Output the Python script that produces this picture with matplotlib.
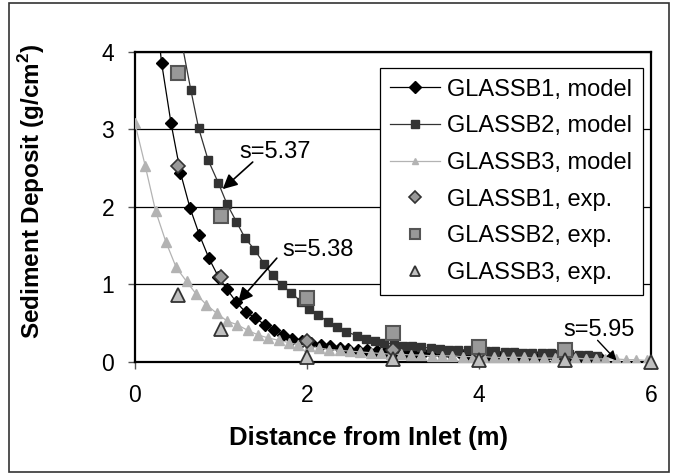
import matplotlib
matplotlib.use("Agg")
import matplotlib.pyplot as plt
from matplotlib.patches import Rectangle

plt.rcParams['font.family'] = ['Liberation Sans', 'DejaVu Sans']
plt.rcParams['mathtext.fontset'] = 'custom'
plt.rcParams['mathtext.bf'] = 'Liberation Sans:bold'
plt.rcParams['mathtext.rm'] = 'Liberation Sans'

# model curves (distance in m, deposit in g/cm2)
b1_model_x = [0.20, 0.31, 0.42, 0.53, 0.64, 0.75, 0.86, 0.97, 1.07, 1.18, 1.29, 1.40,
              1.51, 1.62, 1.72, 1.83, 1.94, 2.05, 2.16, 2.27, 2.38, 2.48, 2.59, 2.70,
              2.81, 2.92, 3.03, 3.14, 3.25, 3.35, 3.46, 3.57, 3.68, 3.79, 3.90, 4.01,
              4.12, 4.22, 4.33, 4.44, 4.55, 4.66, 4.77, 4.88, 4.99, 5.09, 5.20, 5.31, 5.42]
b1_model_y = [5.00, 3.86, 3.08, 2.44, 1.99, 1.64, 1.34, 1.10, 0.94, 0.77, 0.64, 0.57,
              0.48, 0.41, 0.35, 0.30, 0.27, 0.24, 0.22, 0.20, 0.18, 0.17, 0.16, 0.15,
              0.14, 0.14, 0.13, 0.12, 0.12, 0.11, 0.11, 0.10, 0.10, 0.10, 0.09, 0.09,
              0.09, 0.08, 0.08, 0.08, 0.07, 0.07, 0.07, 0.06, 0.06, 0.05, 0.05, 0.04, 0.04]

b2_model_x = [0.43, 0.54, 0.65, 0.74, 0.85, 0.97, 1.07, 1.18, 1.28, 1.39, 1.50, 1.60,
              1.71, 1.82, 1.93, 2.03, 2.13, 2.24, 2.35, 2.46, 2.58, 2.69, 2.79, 2.90,
              3.01, 3.12, 3.22, 3.33, 3.44, 3.55, 3.65, 3.76, 3.87, 3.98, 4.08, 4.19,
              4.30, 4.41, 4.51, 4.62, 4.73, 4.84, 4.94, 5.05, 5.16, 5.27, 5.37]
b2_model_y = [4.90, 4.15, 3.51, 3.02, 2.61, 2.31, 2.04, 1.81, 1.60, 1.45, 1.27, 1.12,
              0.99, 0.89, 0.78, 0.69, 0.61, 0.52, 0.45, 0.39, 0.34, 0.30, 0.27, 0.25,
              0.23, 0.21, 0.20, 0.19, 0.18, 0.17, 0.16, 0.16, 0.15, 0.15, 0.14, 0.14,
              0.13, 0.13, 0.12, 0.12, 0.11, 0.11, 0.10, 0.10, 0.09, 0.09, 0.08]

b3_model_x = [0.00, 0.12, 0.24, 0.36, 0.48, 0.60, 0.71, 0.83, 0.95, 1.07, 1.19, 1.31,
              1.43, 1.55, 1.67, 1.79, 1.90, 2.02, 2.14, 2.26, 2.38, 2.50, 2.62, 2.74,
              2.86, 2.98, 3.09, 3.21, 3.33, 3.45, 3.57, 3.69, 3.81, 3.93, 4.05, 4.17,
              4.28, 4.40, 4.52, 4.64, 4.76, 4.88, 5.00, 5.12, 5.24, 5.36, 5.47, 5.59,
              5.71, 5.83, 5.95]
b3_model_y = [3.08, 2.53, 1.95, 1.55, 1.22, 1.04, 0.88, 0.74, 0.63, 0.53, 0.48, 0.41,
              0.35, 0.31, 0.28, 0.25, 0.22, 0.20, 0.18, 0.16, 0.15, 0.14, 0.13, 0.12,
              0.11, 0.10, 0.10, 0.09, 0.09, 0.08, 0.08, 0.08, 0.07, 0.07, 0.07, 0.06,
              0.06, 0.06, 0.06, 0.05, 0.05, 0.05, 0.05, 0.05, 0.04, 0.04, 0.04, 0.04,
              0.03, 0.03, 0.02]

# measurements
b1_exp_x = [0.5, 1.0, 2.0, 3.0, 4.0, 5.0]
b1_exp_y = [2.53, 1.10, 0.27, 0.15, 0.12, 0.08]
b2_exp_x = [0.5, 1.0, 2.0, 3.0, 4.0, 5.0]
b2_exp_y = [3.73, 1.89, 0.82, 0.38, 0.19, 0.15]
b3_exp_x = [0.5, 1.0, 2.0, 3.0, 4.0, 5.0, 6.0]
b3_exp_y = [0.87, 0.43, 0.07, 0.04, 0.03, 0.03, 0.0]

# s labels: text anchor, arrow tail, arrow tip
s_labels = ['s=5.37', 's=5.38', 's=5.95']
s_text_xy = [(1.22, 2.71), (1.71, 1.45), (4.98, 0.41)]
s_tail_xy = [(1.37, 2.58), (1.65, 1.34), (5.38, 0.28)]
s_tip_xy = [(1.02, 2.23), (1.20, 0.77), (5.60, 0.02)]

fig = plt.figure(figsize=(6.78, 4.76), dpi=100)
ax = fig.add_axes([0.199, 0.2395, 0.761, 0.6513])

ax.plot(b1_model_x, b1_model_y, color='black', lw=0.9, marker='D', ms=6.5,
        mfc='black', mec='black', label='GLASSB1, model', zorder=3)
ax.plot(b2_model_x, b2_model_y, color='#333333', lw=0.9, marker='s', ms=6,
        mfc='#333333', mec='#333333', label='GLASSB2, model', zorder=3)
ax.plot(b3_model_x, b3_model_y, color='#b3b3b3', lw=0.9, marker='^', ms=6.5,
        mfc='#b3b3b3', mec='#b3b3b3', label='GLASSB3, model', zorder=3)

ax.plot(b1_exp_x, b1_exp_y, ls='none', marker='D', ms=7, mfc='#999999',
        mec='#333333', mew=1.2, label='GLASSB1, exp.', zorder=4)
ax.plot(b2_exp_x, b2_exp_y, ls='none', marker='s', ms=10, mfc='#999999',
        mec='#555555', mew=1.5, label='GLASSB2, exp.', zorder=4)
ax.plot(b3_exp_x, b3_exp_y, ls='none', marker='^', ms=10, mfc='#c0c0c0',
        mec='#333333', mew=1.3, label='GLASSB3, exp.', zorder=4, clip_on=False)

ax.set_xlim(0, 6)
ax.set_ylim(0, 4)
ax.set_xticks([0, 2, 4, 6])
ax.set_yticks([0, 1, 2, 3, 4])
ax.yaxis.grid(True, color='black', lw=0.9)
ax.set_axisbelow(True)
for sp in ax.spines.values():
    sp.set_linewidth(1.6)
    sp.set_color('black')
ax.tick_params(axis='x', direction='out', length=5, width=1, pad=11,
               labelsize=16.5, color='#555555')
ax.tick_params(axis='y', direction='out', length=5, width=1, pad=10,
               labelsize=16.5, color='#555555')

ax.set_xlabel('Distance from Inlet (m)', fontsize=18.5, fontweight='bold')
ax.set_ylabel(r'Sediment Deposit (g/cm$^{\mathbf{2}}$)', fontsize=17.5,
              fontweight='bold')
ax.xaxis.set_label_coords(0.452, -0.245)
ax.xaxis.label.set_va('center')
ax.yaxis.set_label_coords(-0.2, 0.55)
ax.yaxis.label.set_va('center')

for label, txy, tail, tip in zip(s_labels, s_text_xy, s_tail_xy, s_tip_xy):
    big = label != 's=5.95'
    ax.text(txy[0], txy[1], label, fontsize=17, ha='left', va='center', zorder=6)
    ax.annotate('', xy=tip, xytext=tail, zorder=6,
                arrowprops=dict(arrowstyle='-|>', color='black',
                                lw=1.2 if big else 1.0,
                                mutation_scale=22 if big else 14,
                                shrinkA=0, shrinkB=0))

leg = ax.legend(loc='upper right', bbox_to_anchor=(0.984, 0.948), fontsize=17,
                frameon=True, fancybox=False, edgecolor='black', framealpha=1,
                handlelength=2.1, handletextpad=0.3, labelspacing=0.62,
                borderpad=0.45, borderaxespad=0)
leg.get_frame().set_linewidth(0.9)
leg.set_zorder(5)
# smaller symbols inside the legend box
for h, size in zip(leg.legend_handles, [6.5, 5.5, 5, 6, 7.5, 7]):
    h.set_markersize(size)

fig.patches.append(Rectangle((0.014, 0.008), 0.972, 0.985, transform=fig.transFigure,
                             fill=False, edgecolor='#333333', lw=1.2))

fig.savefig('out.png', dpi=100)
